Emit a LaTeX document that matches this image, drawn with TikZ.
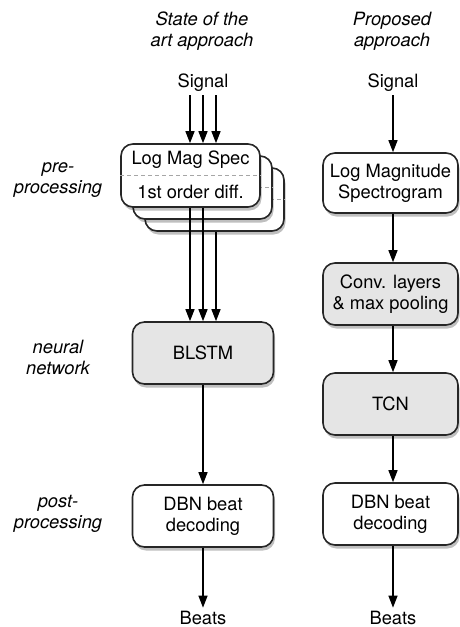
\documentclass[tikz,border=0pt]{standalone}
\usepackage{fontspec}
\setmainfont{TeX Gyre Heros}
\usetikzlibrary{arrows.meta,shadows}
\begin{document}
\begin{tikzpicture}[x=1pt,y=-1pt,
  every node/.style={font=\fontsize{18.3}{21}\selectfont, align=center},
  box/.style={draw=black!85, line width=1.6pt, rounded corners=12pt, fill=white, inner sep=0pt,
    drop shadow={shadow xshift=1.5pt, shadow yshift=-3.5pt, opacity=0.25, fill=black}},
  gbox/.style={box, fill=black!10},
  arr/.style={line width=1.3pt, -{Triangle[width=9pt,length=12pt]}},
  lbl/.style={font=\itshape\fontsize{18.3}{21}\selectfont},
  dsh/.style={draw=black!35, line width=1pt, dash pattern=on 4pt off 3pt}]
\useasboundingbox (0,0) rectangle (459,627);

% titles and side labels
\node[lbl] (titL) at (202,31.5) {State of the\\art approach};
\node[lbl] (titR) at (392,31.5) {Proposed\\approach};
\node[lbl] (pre) at (58,180) {pre-\\processing};
\node[lbl] (nn) at (58,357) {neural\\network};
\node[lbl] (post) at (58,514) {post-\\processing};

% left column
\node (sigL) at (203,83) {Signal};
\node[box, minimum width=139pt, minimum height=63pt] (st3) at (214.5,199.5) {};
\draw[dsh] (st3.west) -- (st3.east);
\node[box, minimum width=139pt, minimum height=63pt] (st2) at (202.5,187.5) {};
\draw[dsh] (st2.west) -- (st2.east);
\node[box, minimum width=139pt, minimum height=63pt] (st1) at (190.5,175.5) {};
\draw[dsh] (st1.west) -- (st1.east);
\node (lms) at (190.5,160) {Log Mag Spec};
\node (fod) at (190.5,191.5) {1st order diff.};
\node[gbox, minimum width=141pt, minimum height=62pt] (blstm) at (203,353) {BLSTM};
\node[box, minimum width=141pt, minimum height=62pt] (dbnL) at (203,516) {DBN beat\\decoding};
\node (beatsL) at (203,618) {Beats};

\foreach \dx in {-13,0,13}
  \draw[arr] ([xshift=\dx pt]sigL.south) -- ([xshift=\dx pt]sigL.south |- st1.north);
\draw[arr] ([xshift=-13pt]sigL.south |- st1.south) -- ([xshift=-13pt]sigL.south |- blstm.north);
\draw[arr] (sigL.south |- st1.south) -- (sigL.south |- blstm.north);
\draw[arr] ([xshift=13pt]sigL.south |- st3.south) -- ([xshift=13pt]sigL.south |- blstm.north);
\draw[arr] (blstm.south) -- (dbnL.north);
\draw[arr] (dbnL.south) -- (beatsL.north);

% right column
\node (sigR) at (393,83) {Signal};
\node[box, minimum width=135pt, minimum height=60pt] (lmag) at (390.5,183) {Log Magnitude\\Spectrogram};
\node[gbox, minimum width=135pt, minimum height=62pt] (conv) at (390.5,294) {Conv. layers\\\& max pooling};
\node[gbox, minimum width=135pt, minimum height=62pt] (tcn) at (390.5,404) {TCN};
\node[box, minimum width=135pt, minimum height=62pt] (dbnR) at (390.5,514) {DBN beat\\decoding};
\node (beatsR) at (393,618) {Beats};

\draw[arr] (sigR.south) -- (sigR.south |- lmag.north);
\draw[arr] (sigR.south |- lmag.south) -- (sigR.south |- conv.north);
\draw[arr] (sigR.south |- conv.south) -- (sigR.south |- tcn.north);
\draw[arr] (sigR.south |- tcn.south) -- (sigR.south |- dbnR.north);
\draw[arr] (sigR.south |- dbnR.south) -- (beatsR.north);
\end{tikzpicture}
\end{document}
